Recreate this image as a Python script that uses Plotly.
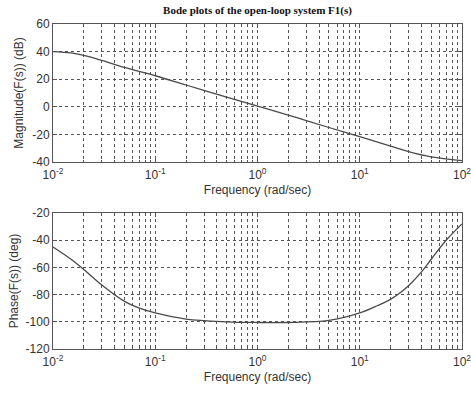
import plotly.graph_objects as go
from plotly.subplots import make_subplots

# ---- data ----
freq_mag = [0.01, 0.015, 0.02, 0.03, 0.05, 0.1, 0.2, 0.5, 1, 2, 3, 5, 10, 20, 30, 50, 100]
mag_db = [40, 39, 37.2, 33.6, 28.5, 22.5, 15.8, 7, 0.5, -6, -10, -15, -21.6, -28.5, -32.5, -36.3, -39]

freq_phase = [0.01, 0.015, 0.02, 0.03, 0.05, 0.07, 0.1, 0.2, 0.5, 1, 2, 5, 10, 15, 20, 25, 30, 40, 50, 70, 100]
phase_deg = [-45, -54, -61.5, -73, -85, -90, -93.5, -98, -100, -100.5, -100.5, -99, -93.5, -88, -83.5,
             -78.5, -73.5, -63.5, -54, -40, -28]

x_tickvals = [0.01, 0.1, 1, 10, 100]
x_ticktext = ["10<sup>-2</sup>", "10<sup>-1</sup>", "10<sup>0</sup>", "10<sup>1</sup>", "10<sup>2</sup>"]
mag_tickvals = [-40, -20, 0, 20, 40, 60]
mag_ticktext = ["-40", "-20", "0", "20", "40", "60"]
phase_tickvals = [-120, -100, -80, -60, -40, -20]
phase_ticktext = ["-120", "-100", "-80", "-60", "-40", "-20"]

title_text = "Bode plots of the open-loop system F1(s)"
xlabel = "Frequency (rad/sec)"
ylabel_mag = "Magnitude(F(s)) (dB)"
ylabel_phase = "Phase(F(s)) (deg)"

W, H = 471, 396
ml, mr, mt, mb = 53, 9, 24, 47
ph = H - mt - mb

def dom(top_px, bot_px):
    return [(H - mb - bot_px) / ph, (H - mb - top_px) / ph]

fig = make_subplots(rows=2, cols=1)
line_col = "#4a4a4a"
fig.add_trace(go.Scatter(x=freq_mag, y=mag_db, mode="lines",
                         line=dict(color=line_col, width=1.3, shape="spline", smoothing=1),
                         showlegend=False), row=1, col=1)
fig.add_trace(go.Scatter(x=freq_phase, y=phase_deg, mode="lines",
                         line=dict(color=line_col, width=1.3, shape="spline", smoothing=1),
                         showlegend=False), row=2, col=1)

minor_vals = [m * 10 ** e for e in range(-2, 2) for m in range(2, 10)]
font = dict(family="Liberation Sans, Arial, sans-serif", size=12, color="#333")
grid_col = "#555"

xcommon = dict(type="log", range=[-2, 2], tickvals=x_tickvals, ticktext=x_ticktext,
               showline=True, mirror="ticks", automargin=False, ticklabeloverflow="allow",
               linecolor="#555", linewidth=1, ticks="inside", ticklen=4, tickcolor="#555",
               showgrid=True, gridcolor=grid_col, griddash="dot", gridwidth=1,
               minor=dict(tickvals=minor_vals, showgrid=True, gridcolor=grid_col, griddash="dot", gridwidth=1,
                          ticks="inside", ticklen=2, tickcolor="#555"),
               tickfont=font, zeroline=False, ticklabelstandoff=2,
               title=dict(text=xlabel, font=font, standoff=4))
ycommon = dict(showline=True, mirror="ticks", linecolor="#555", linewidth=1, ticks="inside", ticklen=4,
               automargin=False, tickcolor="#555", showgrid=True, gridcolor=grid_col, griddash="dot",
               gridwidth=1, zeroline=False, tickfont=font)

fig.update_xaxes(**xcommon, domain=[0, 1])
fig.update_yaxes(**ycommon)
fig.update_yaxes(range=[-40, 60], tickvals=mag_tickvals, ticktext=mag_ticktext, domain=dom(24, 162),
                 title=dict(text=ylabel_mag, font=font, standoff=6), row=1, col=1)
fig.update_yaxes(range=[-120, -20], tickvals=phase_tickvals, ticktext=phase_ticktext, domain=dom(213, 349),
                 title=dict(text=ylabel_phase, font=font, standoff=4), row=2, col=1)

fig.update_layout(
    width=W, height=H,
    margin=dict(l=ml, r=mr, t=mt, b=mb),
    paper_bgcolor="white", plot_bgcolor="white",
    title=dict(text="<b>" + title_text + "</b>", x=0.5, xref="paper", y=1 - 10 / H, yref="container",
               yanchor="middle", font=dict(family="Liberation Serif, Times New Roman, serif", size=11, color="#111")),
)

fig.write_html("out.html", config={"displayModeBar": False},
               post_script="document.body.style.margin='0px';document.body.style.overflow='hidden';")
